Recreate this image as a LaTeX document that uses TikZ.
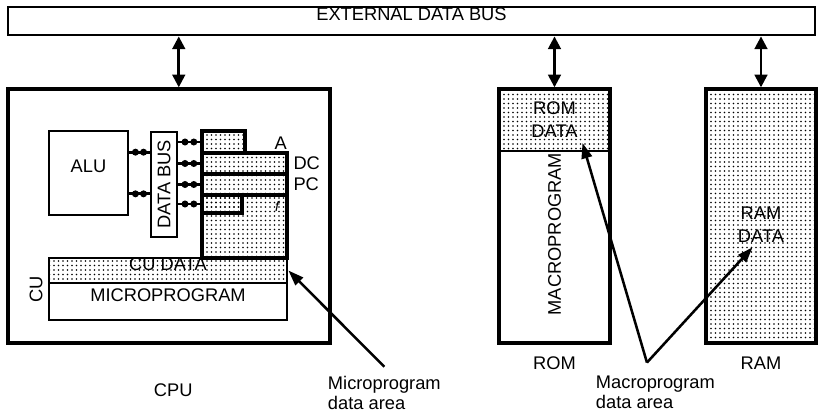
\documentclass[tikz,border=0pt]{standalone}
\usepackage{fontspec}
\setmainfont{Liberation Sans}
\usetikzlibrary{arrows.meta, positioning, fit, calc, patterns}
\pgfdeclarepatternformonly{stipple}{\pgfqpoint{-1pt}{-1pt}}{\pgfqpoint{1pt}{1pt}}{\pgfqpoint{3.2pt}{3.2pt}}{%
  \pgfpathcircle{\pgfqpoint{0pt}{0pt}}{.62pt}\pgfusepath{fill}}

\begin{document}
\begin{tikzpicture}[x=0.025cm, y=-0.025cm,
  font=\fontsize{13}{14.5}\selectfont,
  box/.style={draw, line width=2pt, inner sep=0pt},
  stip/.style={box, pattern=stipple},
  link/.style={line width=2pt},
  bead/.style={circle, fill, inner sep=0pt, minimum size=5pt},
  bidir/.style={line width=1.8pt, >={Triangle[length=9pt,width=9pt]}, <->},
  callout/.style={line width=1.8pt, >={Triangle[length=11pt,width=7.5pt]}, ->},
  twoline/.style={align=center, font=\fontsize{13}{16.5}\selectfont},
]
  \useasboundingbox (0,0) rectangle (818,414);

  % External bus
  \node[box, fit={(8,7) (815,35)}] (bus) {EXTERNAL DATA BUS};

  % CPU
  \node[box, line width=2.4pt, fit={(8,89) (330,343)}] (cpu) {};
  \node[box, fit={(49,131) (128,215)}] (alu) {ALU};
  \node[box, fit={(151,132) (177,237)}] (dbus) {};
  \node[rotate=90] (dbustxt) at (dbus) {DATA BUS};

  % Registers
  \node[stip, line width=2.2pt, fit={(202,195) (287,258)}] (flags) {};
  \node[stip, line width=2.2pt, fit={(202,131) (245,153)}] (regA) {};
  \node[stip, line width=2.2pt, fit={(202,153) (287,174)}] (regDC) {};
  \node[stip, line width=2.2pt, fit={(202,174) (287,195)}] (regPC) {};
  \node[stip, line width=2.2pt, fit={(202,195) (242,213)}] (regX) {};
  \node[anchor=south east, inner sep=1pt] (labA) at (regDC.north east) {A};
  \node[right=0pt of regDC] (labDC) {DC};
  \node[right=0pt of regPC] (labPC) {PC};
  \node[font=\itshape] (labF) at (277,206) {f};

  \foreach \r in {regA, regDC, regPC, regX}
    \draw[link] (dbus.east |- \r.west) -- node[bead, pos=.3]{} node[bead, pos=.7]{} (\r.west);
  \foreach \p in {.26, .74}
    \draw[link] ($(alu.north east)!\p!(alu.south east)$) coordinate (t)
      -- node[bead, pos=.3]{} node[bead, pos=.7]{} (t -| dbus.west);

  % Control unit
  \node[stip, fit={(49,258) (287,283)}] (cudata) {CU DATA};
  \node[box, fit={(49,283) (287,320)}] (micro) {MICROPROGRAM};
  \node[rotate=90] (cu) at (36,289) {CU};

  % ROM and RAM
  \node[stip, line width=0.8pt, fit={(499,89) (610,151)}] (romdata) {};
  \node[box, line width=2.4pt, fit={(499,89) (610,343)}] (rom) {};
  \node[twoline] (romtxt) at (romdata) {ROM\\DATA};
  \node[rotate=90, xshift=10pt] (macro) at ($(rom.south)!.5!(romdata.south)$) {MACROPROGRAM};
  \node[stip, line width=2.4pt, fit={(706,89) (816,343)}] (ram) {};
  \node[twoline] (ramtxt) at ([yshift=-6pt]ram.center) {RAM\\DATA};

  % Bus links
  \draw[bidir] ($(cpu.north west)!.53!(cpu.north east)$) coordinate (p) -- (p |- bus.south);
  \draw[bidir] (rom.north) -- (rom.north |- bus.south);
  \draw[bidir] (ram.north) -- (ram.north |- bus.south);

  % Labels
  \node[below=24pt of cpu, xshift=3pt] (cpulab) {CPU};
  \node[below=5pt of rom] (romlab) {ROM};
  \node[below=5pt of ram] (ramlab) {RAM};
  \node[anchor=north west, align=left] (mlabel) at (323,371) {Microprogram\\data area};
  \node[anchor=north west, align=left] (maclabel) at (591,371) {Macroprogram\\data area};

  % Data area pointers
  \draw[callout] ([yshift=3pt]mlabel.north) -- (cudata.east);
  \draw[callout] ([xshift=-6pt,yshift=6pt]maclabel.north) coordinate (apex) -- (romtxt.south east);
  \draw[callout] (apex) -- ([xshift=-6pt]ramtxt.south);
\end{tikzpicture}
\end{document}
